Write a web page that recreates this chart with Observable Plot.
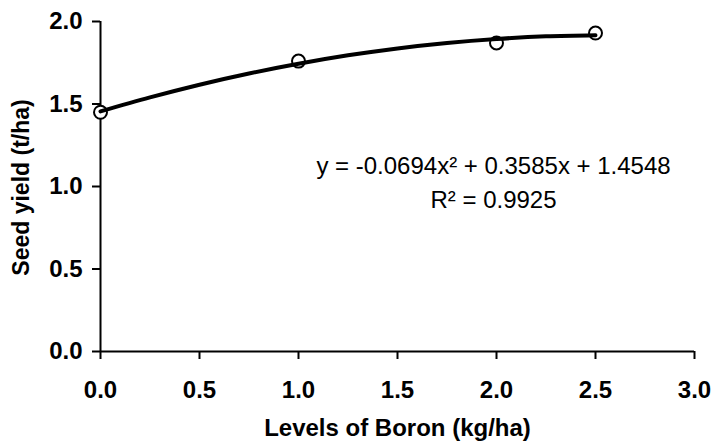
<!DOCTYPE html>
<html>
<head>
<meta charset="utf-8">
<script src="https://cdn.jsdelivr.net/npm/d3@7"></script>
<script src="https://cdn.jsdelivr.net/npm/@observablehq/plot@0.6"></script>
<style>
  html, body { margin: 0; padding: 0; background: white; }
</style>
</head>
<body>
<div id="chart"></div>
<script>
// Observed data
const boronLevels = [0, 1, 2, 2.5];
const seedYield = [1.45, 1.76, 1.87, 1.93];

// Trendline
const trendX = [0, 0.25, 0.5, 0.75, 1.0, 1.25, 1.5, 1.75, 2.0, 2.25, 2.5];
const trendY = [1.455, 1.540, 1.617, 1.685, 1.744, 1.795, 1.837, 1.870, 1.894, 1.910, 1.917];

// Tick labels
const xTicks = [0, 0.5, 1.0, 1.5, 2.0, 2.5, 3.0];
const yTicks = [0, 0.5, 1.0, 1.5, 2.0];

// Annotation
const eqLines = ["y = -0.0694x² + 0.3585x + 1.4548", "R² = 0.9925"];
const eqX = [1.985, 1.985];
const eqY = [1.121, 0.915];

const xLabel = "Levels of Boron (kg/ha)";
const yLabel = "Seed yield (t/ha)";

const obs = boronLevels.map((x, i) => ({x, y: seedYield[i]}));
const trend = trendX.map((x, i) => ({x, y: trendY[i]}));
const eq = eqLines.map((t, i) => ({t, x: eqX[i], y: eqY[i]}));

const chart = Plot.plot({
  width: 712,
  height: 441,
  marginLeft: 100,
  marginRight: 18,
  marginTop: 21,
  marginBottom: 90,
  style: {fontFamily: "'Liberation Sans', Arial, sans-serif", background: "white", color: "black"},
  x: {domain: [0, 3]},
  y: {domain: [0, 2]},
  marks: [
    Plot.axisX({ticks: xTicks, tickFormat: d3.format(".1f"), tickSize: 8, tickPadding: 21,
      fontSize: 24, fontWeight: "bold", strokeWidth: 2, label: null}),
    Plot.axisY({ticks: yTicks, tickFormat: d3.format(".1f"), tickSize: 8, tickPadding: 10,
      fontSize: 24, fontWeight: "bold", strokeWidth: 2, label: null}),
    Plot.ruleX([0], {strokeWidth: 2}),
    Plot.ruleY([0], {strokeWidth: 2}),
    Plot.dot(obs, {x: "x", y: "y", r: 6.5, stroke: "black", strokeWidth: 2, fill: "white"}),
    Plot.line(trend, {x: "x", y: "y", curve: "natural", strokeWidth: 4, stroke: "black"}),
    Plot.text(eq, {x: "x", y: "y", text: "t", fontSize: 24, textAnchor: "middle", fill: "black"}),
    Plot.text([xLabel], {frameAnchor: "bottom", textAnchor: "middle", dy: 84, fontSize: 24, fontWeight: "bold", fill: "black"}),
    Plot.text([yLabel], {frameAnchor: "left", textAnchor: "middle", rotate: -90, dx: -79, dy: 1, fontSize: 23, fontWeight: "bold", fill: "black"})
  ]
});
document.getElementById("chart").appendChild(chart);
</script>
</body>
</html>
